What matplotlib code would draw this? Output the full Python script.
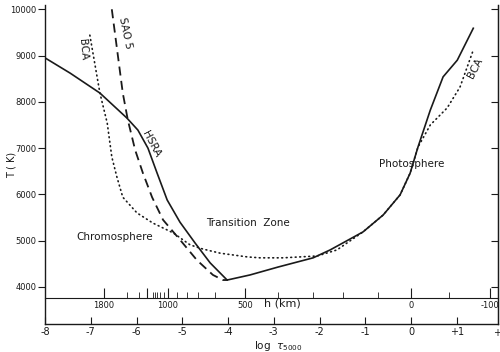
import matplotlib
matplotlib.use("Agg")

import matplotlib.pyplot as plt

# HSRA (solid)
hsra_logtau = [-8.0, -7.45, -6.80, -6.21, -5.97, -5.75, -5.55, -5.33, -5.05, -4.72,
               -4.39, -4.02, -3.52, -2.91, -2.14, -1.77, -1.05, -0.61, -0.24, -0.02,
               0.15, 0.42, 0.70, 1.01, 1.36]
hsra_T = [8950, 8620, 8190, 7650, 7390, 7000, 6460, 5880, 5400, 4950,
          4520, 4150, 4260, 4430, 4630, 4800, 5190, 5555, 5990, 6460,
          7020, 7820, 8540, 8900, 9590]

# SAO 5 (dashed)
sao_logtau = [-6.54, -6.30, -6.19, -6.03, -5.86, -5.66, -5.42, -5.05, -4.68, -4.33, -4.11, -4.0]
sao_T = [10000, 8190, 7610, 6960, 6460, 5940, 5450, 5020, 4580, 4260, 4150, 4150]

# BCA (dotted)
bca_logtau = [-7.02, -6.80, -6.64, -6.54, -6.43, -6.30, -5.99, -5.64, -5.20, -4.83,
              -4.55, -4.17, -3.58, -3.30, -2.80, -2.05, -1.62, -1.05, -0.61, -0.24,
              -0.02, 0.15, 0.42, 0.79, 1.07, 1.36]
bca_T = [9440, 8190, 7540, 6810, 6380, 5940, 5600, 5380, 5170, 4910,
         4820, 4730, 4650, 4630, 4630, 4670, 4800, 5190, 5555, 5990,
         6460, 7020, 7500, 7870, 8320, 9120]

# axes ticks
T_ticks = [4000, 5000, 6000, 7000, 8000, 9000, 10000]
tau_ticks = [-8, -7, -6, -5, -4, -3, -2, -1, 0, 1]
tau_labels = ["-8", "-7", "-6", "-5", "-4", "-3", "-2", "-1", "0", "+1"]

# height scale (km) placed at log tau positions
h_major_pos = [-6.71, -5.77, -5.31, -3.63, 0.0, 1.73]
h_major_labels = ["1800", "", "1000", "500", "0", "-100"]
h_minor_pos = [-6.21, -5.95, -5.64, -5.60, -5.55, -5.49, -5.40, -5.11, -4.90, -4.66,
               -4.28, -2.91, -2.14, -1.49, -0.72, 0.83]

ink = "#1a1a1a"
plt.rcParams["font.family"] = ["DejaVu Sans"]

fig = plt.figure(figsize=(5, 3.52), dpi=100)
ax = fig.add_axes([0.09, 0.0795, 0.906, 0.906])

ax.plot(hsra_logtau, hsra_T, color=ink, lw=1.2)
ax.plot(sao_logtau, sao_T, color=ink, lw=1.3, dashes=(5, 3))
ax.plot(bca_logtau, bca_T, color=ink, lw=1.2, linestyle=(0, (0.5, 2.2)),
        dash_capstyle="round")

ax.set_xlim(-8, 1.9)
ax.set_ylim(3200, 10090)

ax.spines["top"].set_visible(False)
for side in ["left", "right", "bottom"]:
    ax.spines[side].set_color(ink)
    ax.spines[side].set_linewidth(1.0)

ax.set_yticks(T_ticks)
ax.set_yticklabels([str(t) for t in T_ticks])
ax.tick_params(axis="y", direction="out", length=5, labelsize=6, colors=ink, pad=1)
ax.set_xticks(tau_ticks)
ax.set_xticklabels(tau_labels)
ax.tick_params(axis="x", direction="in", length=5, labelsize=7, colors=ink, pad=2)
# the +2 label sits at the cut right edge, only the sign shows
ax.text(1.88, -0.012, "+", transform=ax.get_xaxis_transform(), ha="center",
        va="top", fontsize=7, color=ink, clip_on=False)

# right side ticks pointing inward
ax_r = ax.twinx()
ax_r.set_ylim(ax.get_ylim())
ax_r.set_yticks(T_ticks)
ax_r.tick_params(axis="y", direction="in", length=5, labelright=False, colors=ink)
for side in ["top", "left", "bottom"]:
    ax_r.spines[side].set_visible(False)
ax_r.spines["right"].set_color(ink)

# height axis
ax_h = fig.add_axes([0.09, 1 - 298 / 352, 0.906, 0.0001])
ax_h.patch.set_visible(False)
for side in ["top", "left", "right"]:
    ax_h.spines[side].set_visible(False)
ax_h.spines["bottom"].set_color(ink)
ax_h.set_xlim(ax.get_xlim())
ax_h.set_yticks([])
ax_h.set_xticks(h_major_pos)
ax_h.set_xticklabels(h_major_labels)
ax_h.set_xticks(h_minor_pos, minor=True)
ax_h.tick_params(axis="x", which="major", direction="in", length=7, labelsize=6,
                 colors=ink, pad=2)
ax_h.tick_params(axis="x", which="minor", direction="in", length=4, colors=ink)

# labels
fig.text(12 / 500, 1 - 165 / 352, "T ( K)", rotation=90, ha="center", va="center",
         fontsize=7, color=ink)
fig.text(282 / 500, 1 - 303 / 352, "h (km)", ha="center", va="center",
         fontsize=8, color=ink)
fig.text(278 / 500, 1 - 346 / 352, r"log  $\tau_{5000}$", ha="center", va="center",
         fontsize=7.5, color=ink)

ax.text(-6.24, 9480, "SAO 5", rotation=-78, ha="center", va="center",
        fontsize=7.5, color=ink)
ax.text(-7.17, 9140, "BCA", rotation=-85, ha="center", va="center",
        fontsize=7.5, color=ink)
ax.text(-5.68, 7080, "HSRA", rotation=-62, ha="center", va="center",
        fontsize=7.5, color=ink)
ax.text(1.40, 8730, "BCA", rotation=63, ha="center", va="center",
        fontsize=7.5, color=ink)
ax.text(-6.47, 5080, "Chromosphere", ha="center", va="center", fontsize=7.5, color=ink)
ax.text(-3.56, 5380, "Transition  Zone", ha="center", va="center", fontsize=7.5, color=ink)
ax.text(0.02, 6650, "Photosphere", ha="center", va="center", fontsize=7.5, color=ink)

fig.savefig("out.png", dpi=100)
plt.close(fig)
